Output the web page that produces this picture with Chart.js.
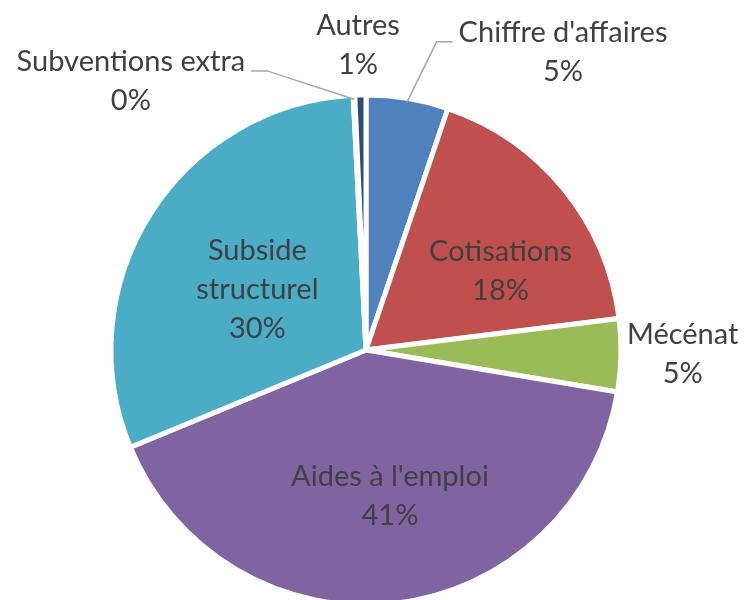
<!DOCTYPE html>
<html><head><meta charset="utf-8">
<script src="https://cdn.jsdelivr.net/npm/chart.js@4/dist/chart.umd.min.js"></script>
<style>
html,body{margin:0;padding:0;background:#fff;overflow:hidden;}
#wrap{width:747px;height:610px;}
</style></head>
<body><div id="wrap"><canvas id="c" width="747" height="610"></canvas></div>
<script>
// Data
const categories = ["Chiffre d'affaires", "Cotisations", "Mécénat", "Aides à l'emploi", "Subside structurel", "Subventions extra", "Autres"];
const labelLines = [["Chiffre d'affaires"], ["Cotisations"], ["Mécénat"], ["Aides à l'emploi"], ["Subside", "structurel"], ["Subventions extra"], ["Autres"]];
const values = [5.2, 17.8, 4.6, 41.1, 30.4, 0.1, 0.7];
const colors = ["#4F81BD", "#C0504D", "#9BBB59", "#8064A2", "#4BACC6", "#F79646", "#2C4D75"];

// Label layout (polar, degrees clockwise from top, radius fraction) and leader flags
const labelPolar = [[33.5, 1.40], [59.7, 0.611], [90.8, 1.242], [170.7, 0.582], [299.2, 0.488], [-41.2, 1.40], [-1.5, 1.197]];
const hasLeader = [true, false, false, false, false, true, false];

const FONT = "29px Lato";
const LINE_H = 39;
const TEXT_COLOR = "#404040";

const total = values.reduce((a, b) => a + b, 0);

const labelPlugin = {
  id: 'pieLabels',
  afterDatasetsDraw(chart) {
    const ctx = chart.ctx;
    const meta = chart.getDatasetMeta(0);
    const arc0 = meta.data[0];
    const cx = arc0.x, cy = arc0.y, R = arc0.outerRadius;
    ctx.save();
    ctx.font = FONT;
    ctx.fillStyle = TEXT_COLOR;
    ctx.textAlign = 'center';
    ctx.textBaseline = 'middle';
    values.forEach((v, i) => {
      const [deg, rf] = labelPolar[i];
      const a = deg * Math.PI / 180;
      const lx = cx + Math.sin(a) * R * rf;
      const ly = cy - Math.cos(a) * R * rf;
      const lines = labelLines[i].concat([Math.round(v / total * 100) + '%']);
      const top = ly - (lines.length - 1) * LINE_H / 2;
      lines.forEach((t, k) => ctx.fillText(t, lx, top + k * LINE_H));
      if (hasLeader[i]) {
        const arc = meta.data[i];
        const mid = (arc.startAngle + arc.endAngle) / 2;
        const sx = cx + Math.cos(mid) * (R - 4);
        const sy = cy + Math.sin(mid) * (R - 4);
        const w = ctx.measureText(labelLines[i][0]).width;
        const lineY = top + 9;
        let ex, hx;
        if (lx > cx) { hx = lx - w / 2 - 6; ex = hx - 16; }
        else { hx = lx + w / 2 + 6; ex = hx + 16; }
        ctx.strokeStyle = '#A6A6A6';
        ctx.lineWidth = 1.5;
        ctx.beginPath();
        ctx.moveTo(sx, sy);
        ctx.lineTo(ex, lineY);
        ctx.lineTo(hx, lineY);
        ctx.stroke();
      }
    });
    ctx.restore();
  }
};

new Chart(document.getElementById('c'), {
  type: 'pie',
  data: {
    labels: categories,
    datasets: [{
      data: values,
      backgroundColor: colors,
      borderColor: '#FFFFFF',
      borderWidth: 5,
      hoverOffset: 0
    }]
  },
  options: {
    responsive: false,
    devicePixelRatio: 1,
    animation: false,
    layout: { padding: { left: 108.5, right: 123.5, top: 92.5, bottom: 2.5 } },
    plugins: { legend: { display: false }, tooltip: { enabled: false } }
  },
  plugins: [labelPlugin]
});
</script>
</body></html>
